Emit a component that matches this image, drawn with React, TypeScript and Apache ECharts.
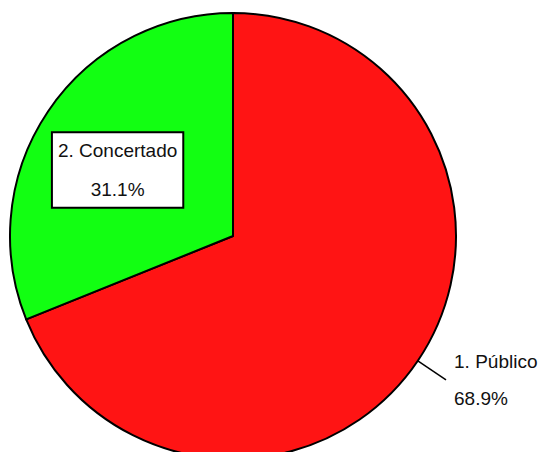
import React, { useEffect, useRef } from "react";
import * as echarts from "echarts";

const categories = ["1. Público", "2. Concertado"];
const values = [68.9, 31.1];
const colors = ["#ff1414", "#12ff12"];

export default function App() {
  const ref = useRef<HTMLDivElement>(null);
  useEffect(() => {
    if (!ref.current) return;
    const chart = echarts.init(ref.current, null, { renderer: "svg" });
    const font = "'Liberation Sans', Arial, sans-serif";
    chart.setOption({
      animation: false,
      backgroundColor: "#ffffff",
      series: [
        {
          type: "pie",
          center: [233, 236],
          radius: [0, 223],
          startAngle: 90,
          clockwise: true,
          avoidLabelOverlap: false,
          itemStyle: { borderColor: "#000", borderWidth: 2 },
          emphasis: { disabled: true },
          labelLayout: (p: any) => (p.dataIndex === 1 ? { dx: -20.5, dy: -2 } : {}),
          data: categories.map((name, i) => ({
            name,
            value: values[i],
            itemStyle: { color: colors[i] },
            label:
              i === 1
                ? {
                    show: true,
                    position: "inside",
                    formatter: (p: any) => `${p.name}\n\n${p.value.toFixed(1)}%`,
                    fontFamily: font,
                    fontSize: 19,
                    color: "#111",
                    lineHeight: 19.5,
                    align: "center",
                    backgroundColor: "#fff",
                    borderColor: "#000",
                    borderWidth: 2,
                    padding: [5, 5, 10, 5],
                  }
                : {
                    show: true,
                    position: "outside",
                    formatter: (p: any) => `${p.name}\n\n${p.value.toFixed(1)}%`,
                    fontFamily: font,
                    fontSize: 19,
                    color: "#111",
                    lineHeight: 18.5,
                    distanceToLabelLine: 8,
                  },
            labelLine:
              i === 0
                ? { show: true, length: 34, length2: 0, lineStyle: { color: "#000", width: 1.5 } }
                : { show: false },
          })),
        },
      ],
    });
    return () => chart.dispose();
  }, []);
  return (
    <div
      ref={ref}
      style={{ position: "absolute", left: 0, top: 0, width: 540, height: 452 }}
    />
  );
}
